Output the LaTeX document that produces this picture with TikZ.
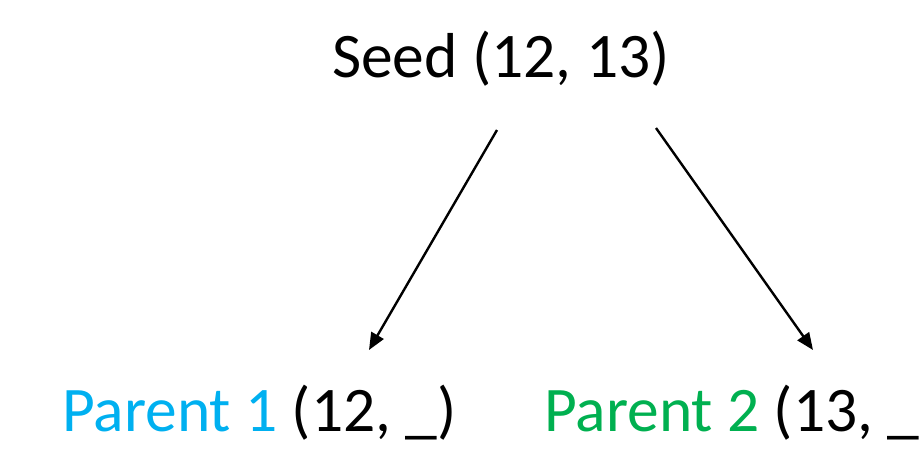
\documentclass[tikz,border=0pt]{standalone}
\usepackage{fontspec}
\setmainfont{Carlito}
\usetikzlibrary{arrows.meta}
\definecolor{pone}{HTML}{00B0F0}
\definecolor{ptwo}{HTML}{00B050}
\tikzset{
  label text/.style={inner sep=0pt, anchor=base west, font=\fontsize{63.5}{70}\selectfont},
  link/.style={line width=2.4pt, -{Triangle[length=17pt,width=14pt]}}
}
\begin{document}
\begin{tikzpicture}[x=1pt, y=-1pt]
  \useasboundingbox (0,0) rectangle (924,451);
  \node[label text] (seed) at (332,77) {Seed (12, 13)};
  \node[label text] (p1) at (62,431) {\textcolor{pone}{Parent 1} (12, \_)};
  \node[label text] (p2) at (544,431) {\textcolor{ptwo}{Parent 2} (13, \_};
  % arrow end points under the seed and above each parent
  \coordinate (s1) at (497,130);
  \coordinate (s2) at (656,128);
  \coordinate (t1) at (369,350);
  \coordinate (t2) at (813,350);
  \draw[link] (s1) -- (t1);
  \draw[link] (s2) -- (t2);
\end{tikzpicture}
\end{document}
